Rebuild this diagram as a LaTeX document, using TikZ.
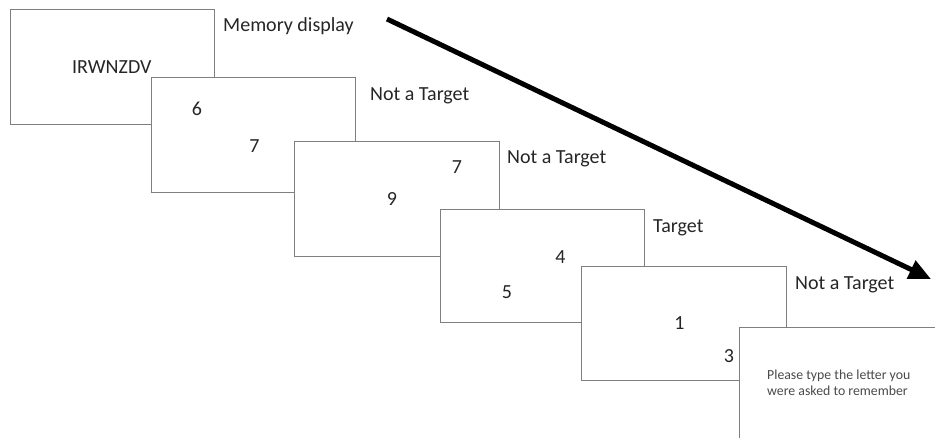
\documentclass[tikz,border=0pt]{standalone}
\usepackage{fontspec}
\setmainfont{Carlito}
\usetikzlibrary{arrows.meta}
\definecolor{boxline}{HTML}{7F7F7F}
\definecolor{txt}{HTML}{262626}
\definecolor{smalltxt}{HTML}{4A4A4A}
\tikzset{
  screen/.style={draw=boxline, line width=0.9pt, fill=white},
  lab/.style={anchor=base west, inner sep=0pt, text=txt, font=\fontsize{20}{24}\selectfont},
  num/.style={anchor=base, inner sep=0pt, text=txt, font=\fontsize{20}{24}\selectfont},
  small/.style={anchor=base west, inner sep=0pt, text=smalltxt, font=\fontsize{13.8}{15.7}\selectfont, align=left},
  timearrow/.style={line width=5pt, -{Triangle[length=22pt,width=19pt]}}
}
\begin{document}
\begin{tikzpicture}[x=1pt,y=-1pt]
\useasboundingbox (0,0) rectangle (935,437);
\begin{scope}
\clip (0,0) rectangle (935,437);
\draw[screen] (10,9) rectangle (214,124);
\draw[screen] (151,77) rectangle (355,192);
\draw[screen] (294,141) rectangle (499,256);
\draw[screen] (440,209) rectangle (644,322);
\draw[screen] (581,266) rectangle (786,380);
\draw[screen] (739,327) rectangle (945,450);
\end{scope}
% screen contents
\node[lab] (m) at (72,73) {IRWNZDV};
\node[num] (n6) at (197,115) {6};
\node[num] (n7a) at (254.5,152) {7};
\node[num] (n7b) at (457,173) {7};
\node[num] (n9) at (392,205) {9};
\node[num] (n4) at (560.5,263) {4};
\node[num] (n5) at (507,298) {5};
\node[num] (n1) at (679.5,329) {1};
\node[num] (n3) at (729,362) {3};
\node[small] (q1) at (767,379.3) {Please type the letter you};
\node[small] (q2) at (767,395) {were asked to remember};
% labels
\node[lab] (l1) at (223,31) {Memory display};
\node[lab] (l2) at (370,100.5) {Not a Target};
\node[lab] (l3) at (507,163.3) {Not a Target};
\node[lab] (l4) at (653,232) {Target};
\node[lab] (l5) at (795,289.3) {Not a Target};
% time arrow
\coordinate (as) at (387,19);
\coordinate (ae) at (931,279);
\draw[timearrow] (as) -- (ae);
\end{tikzpicture}
\end{document}
